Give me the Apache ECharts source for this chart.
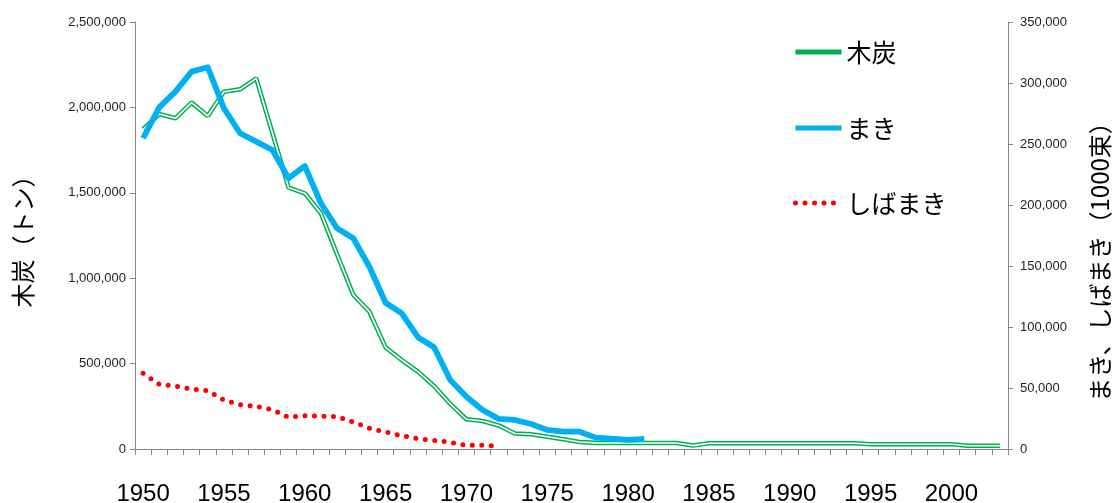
<!DOCTYPE html>
<html>
<head>
<meta charset="utf-8">
<script src="https://cdn.jsdelivr.net/npm/echarts@6/dist/echarts.min.js"></script>
<style>html,body{margin:0;padding:0;background:#fff;}#c{width:1114px;height:503px;}</style>
</head>
<body>
<div id="c"></div>
<script>
const years = ['1950','1951','1952','1953','1954','1955','1956','1957','1958','1959',
  '1960','1961','1962','1963','1964','1965','1966','1967','1968','1969',
  '1970','1971','1972','1973','1974','1975','1976','1977','1978','1979',
  '1980','1981','1982','1983','1984','1985','1986','1987','1988','1989',
  '1990','1991','1992','1993','1994','1995','1996','1997','1998','1999',
  '2000','2001','2002','2003'];

// 木炭 (tons) - left axis
const charcoal = [1872000,1961000,1936000,2028000,1950000,2092000,2106000,2170000,1850000,1530000,
  1497000,1380000,1140000,903000,804000,595000,521000,453000,369000,264000,
  174000,164000,138000,91000,86000,72000,57000,41000,36000,35000,
  35000,35000,35000,35000,20000,34000,34000,34000,34000,34000,
  34000,34000,34000,34000,34000,28000,28000,28000,28000,28000,
  28000,19000,19000,19000];

// まき (1000 bundles) - right axis
const firewood = [254700,280000,292900,309300,312900,279300,258800,251900,245100,221900,
  232000,201400,180900,172700,149400,119900,111200,91600,83400,56600,
  42900,32000,24700,23800,20500,15600,14200,14200,9300,8500,
  7400,8200];

// しばまき (1000 bundles) - right axis
const brushwood = [62000,53000,51600,49200,47800,40200,36300,35000,32000,26000,
  27300,27000,26500,22100,17000,13900,10900,8500,7100,5500,
  3000,3000,2200];

const leftTicks = {min:0, max:2500000, interval:500000};
const rightTicks = {min:0, max:350000, interval:50000};
const leftTitle = '木炭（トン）';
const rightTitle = 'まき、しばまき（1000束）';

const fmt = v => v.toLocaleString('en-US');
const numFont = 'Liberation Sans';
const jpFont = 'Noto Sans CJK JP';

const chart = echarts.init(document.getElementById('c'));
const legendBase = {
  orient:'vertical', left:788, itemWidth:46, itemHeight:14,
  textStyle:{fontFamily:jpFont, fontSize:25, color:'#000', lineHeight:30}
};
const hideSym = {opacity:0};
chart.setOption({
  animation:false,
  backgroundColor:'#fff',
  grid:{left:135, right:106, top:22, bottom:54, containLabel:false, outerBoundsMode:'none'},
  legend:[
    Object.assign({}, legendBase, {top:32, data:[{name:'木炭', itemStyle:hideSym, lineStyle:{width:5, color:'#00b050'}}]}),
    Object.assign({}, legendBase, {top:108, data:[{name:'まき', itemStyle:hideSym, lineStyle:{width:5, color:'#00b0f0'}}]}),
    Object.assign({}, legendBase, {top:183, data:[{name:'しばまき', itemStyle:hideSym, lineStyle:{width:5, color:'#ff0000', type:[0,9.5], cap:'round'}}]})
  ],
  graphic:[{
    type:'text', x:1100, y:256, rotation:Math.PI/2,
    style:{text:rightTitle, fontFamily:jpFont, fontSize:24, fill:'#000', align:'center', verticalAlign:'middle'}
  }],
  xAxis:{
    type:'category', data:years, boundaryGap:true,
    axisLine:{lineStyle:{color:'#888', width:1}},
    axisTick:{show:true, interval:0, length:6, lineStyle:{color:'#888'}},
    axisLabel:{interval:4, fontFamily:numFont, fontSize:24, color:'#000', margin:33}
  },
  yAxis:[
    Object.assign({type:'value', position:'left'}, leftTicks, {
      name:leftTitle, nameLocation:'middle', nameRotate:90, nameGap:100,
      nameTextStyle:{fontFamily:jpFont, fontSize:24, color:'#000'},
      splitLine:{show:false},
      axisLine:{show:true, lineStyle:{color:'#888'}},
      axisTick:{show:true, length:5, lineStyle:{color:'#888'}},
      axisLabel:{formatter:fmt, fontFamily:numFont, fontSize:13, color:'#222', margin:9}
    }),
    Object.assign({type:'value', position:'right'}, rightTicks, {
      splitLine:{show:false},
      axisLine:{show:true, lineStyle:{color:'#888'}},
      axisTick:{show:true, length:5, lineStyle:{color:'#888'}},
      axisLabel:{formatter:fmt, fontFamily:numFont, fontSize:13, color:'#222', margin:12}
    })
  ],
  series:[
    {name:'しばまき', type:'line', yAxisIndex:1, data:brushwood, symbol:'none', z:2,
      lineStyle:{color:'#ff0000', width:5, type:[0,9.5], cap:'round'}, itemStyle:{color:'#ff0000'}},
    {name:'木炭', type:'line', yAxisIndex:0, data:charcoal, symbol:'none', z:3,
      lineStyle:{color:'#00b050', width:4.6}, itemStyle:{color:'#00b050'}},
    {name:'木炭-inner', type:'line', yAxisIndex:0, data:charcoal, symbol:'none', z:4,
      lineStyle:{color:'#ffffff', width:1.6}, itemStyle:{color:'#ffffff'}},
    {name:'まき', type:'line', yAxisIndex:1, data:firewood, symbol:'none', z:5,
      lineStyle:{color:'#00b0f0', width:5.8, join:'round'}, itemStyle:{color:'#00b0f0'}}
  ]
});
</script>
</body>
</html>
